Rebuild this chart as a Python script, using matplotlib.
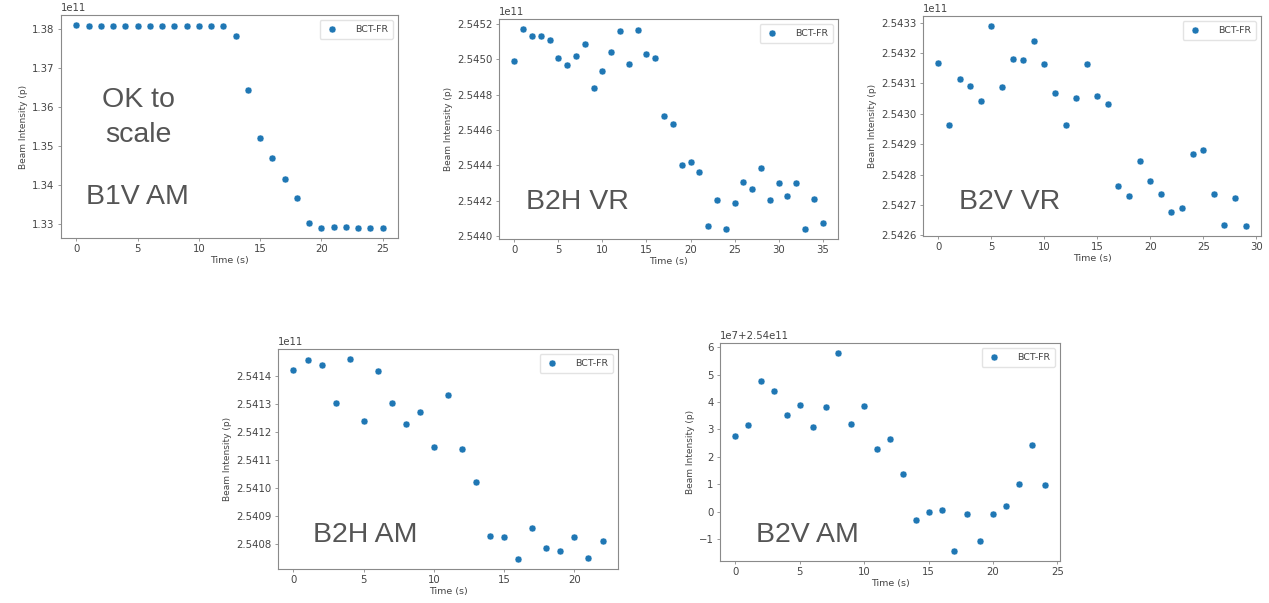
import matplotlib
matplotlib.use("Agg")
import matplotlib.pyplot as plt
from matplotlib.ticker import MultipleLocator, ScalarFormatter

# data (values in units of 1e11 p, except b2v_am)
b1v_am = [1.3811, 1.3808, 1.3808, 1.3808, 1.3808, 1.3808, 1.3808, 1.3808, 1.3808,
          1.3808, 1.3808, 1.3808, 1.3808, 1.3784, 1.3643, 1.3521, 1.3469, 1.3416,
          1.3365, 1.3302, 1.3289, 1.3291, 1.3291, 1.3289, 1.3289, 1.3289]
b2h_vr = [2.5449887, 2.5451717, 2.5451321, 2.5451340, 2.5451094, 2.5450057, 2.5449660,
          2.5450170, 2.5450868, 2.5448358, 2.5449321, 2.5450396, 2.5451623, 2.5449717,
          2.5451660, 2.5450302, 2.5450057, 2.5446811, 2.5446358, 2.5444000, 2.5444189,
          2.5443604, 2.5440566, 2.5442057, 2.5440396, 2.5441887, 2.5443038, 2.5442642,
          2.5443830, 2.5442057, 2.5442981, 2.5442283, 2.5442981, 2.5440396, 2.5442113,
          2.5440736]
b2v_vr = [2.5431670, 2.5429637, 2.5431132, 2.5430901, 2.5430429, 2.5432890, 2.5430868,
          2.5431791, 2.5431758, 2.5432407, 2.5431637, 2.5430692, 2.5429637, 2.5430505,
          2.5431637, 2.5430571, 2.5430330, 2.5427615, 2.5427308, 2.5428440, 2.5427780,
          2.5427374, 2.5426769, 2.5426901, 2.5428670, 2.5428802, 2.5427374, 2.5426341,
          2.5427242, 2.5426308]
b2h_am = [2.5414226, 2.5414583, 2.5414405, 2.5413036, 2.5414619, 2.5412417, 2.5414179,
          2.5413036, 2.5412310, 2.5412714, 2.5411476, 2.5413321, 2.5411405, 2.5410226,
          2.5408310, 2.5408274, 2.5407476, 2.5408595, 2.5407881, 2.5407774, 2.5408274,
          2.5407512, 2.5408131]
# offsets from 2.54e11 in units of 1e7
b2v_am = [2.76, 3.16, 4.77, 4.40, 3.53, 3.90, 3.09, 3.81, 5.79, 3.20, 3.86, 2.28, 2.65,
          1.37, -0.31, -0.01, 0.05, -1.44, -0.08, -1.07, -0.08, 0.21, 1.01, 2.43, 0.98]

labels = ["B1V AM", "B2H VR", "B2V VR", "B2H AM", "B2V AM"]

W, H = 1269, 603
TXT = "#444444"
SPINE = "#8a8a8a"
BLUE = "#1f77b4"

plt.rcParams["font.family"] = "DejaVu Sans"

fig = plt.figure(figsize=(W / 100, H / 100), dpi=100)


def make_ax(left, top, right, bottom):
    ax = fig.add_axes([left / W, 1 - bottom / H, (right - left) / W, (bottom - top) / H])
    for s in ax.spines.values():
        s.set_color(SPINE)
    ax.tick_params(labelsize=7.3, colors=TXT, length=2.5, width=0.6, pad=2)
    ax.tick_params(color=SPINE)
    ax.set_xlabel("Time (s)", fontsize=6.8, color=TXT, labelpad=1)
    ax.set_ylabel("Beam Intensity (p)", fontsize=6.5, color=TXT, labelpad=3)
    return ax


def finish(ax):
    leg = ax.legend(loc="upper right", fontsize=6.8, handletextpad=1.6, borderpad=0.55,
                    handlelength=1.6, framealpha=0.8)
    leg.get_frame().set_edgecolor("#dddddd")
    for t in leg.get_texts():
        t.set_color(TXT)
    ax.yaxis.get_offset_text().set_fontsize(7.3)
    ax.yaxis.get_offset_text().set_color(TXT)


def draw(ax, y, ystep):
    x = list(range(len(y)))
    ax.plot(x, [v * 1e11 for v in y], "o", color=BLUE, ms=5, mec="white", mew=0.3,
            label="BCT-FR")
    ax.xaxis.set_major_locator(MultipleLocator(5))
    ax.yaxis.set_major_locator(MultipleLocator(round(ystep * 1e11)))
    ax.yaxis.set_major_formatter(ScalarFormatter(useOffset=False))
    finish(ax)


ax1 = make_ax(61, 15, 398, 238)
draw(ax1, b1v_am, 0.01)

ax2 = make_ax(499, 19, 838, 239)
draw(ax2, b2h_vr, 0.0002)

ax3 = make_ax(923, 16, 1261, 236)
draw(ax3, b2v_vr, 0.0001)

ax4 = make_ax(278, 349, 618, 569)
draw(ax4, b2h_am, 0.0001)

ax5 = make_ax(720, 343, 1060, 561)
ax5.plot(range(len(b2v_am)), [2.54e11 + v * 1e7 for v in b2v_am], "o", color=BLUE, ms=5,
         mec="white", mew=0.3, label="BCT-FR")
ax5.yaxis.set_major_formatter(ScalarFormatter(useOffset=2.54e11))
ax5.xaxis.set_major_locator(MultipleLocator(5))
ax5.yaxis.set_major_locator(MultipleLocator(1e7))
finish(ax5)

# slide annotations
ANN = "#555555"
fig.text(138 / W, 1 - 100 / H, "OK to", ha="center", va="center", fontsize=20.5,
         color=ANN, family="Liberation Sans")
fig.text(138 / W, 1 - 135 / H, "scale", ha="center", va="center", fontsize=20.5,
         color=ANN, family="Liberation Sans")
label_pos = [(137, 197), (577, 202), (1010, 202), (365, 535), (807, 535)]
for (px, py), lab in zip(label_pos, labels):
    fig.text(px / W, 1 - py / H, lab, ha="center", va="center", fontsize=20.5, color=ANN,
             family="Liberation Sans")

fig.savefig("out.png", dpi=100)
